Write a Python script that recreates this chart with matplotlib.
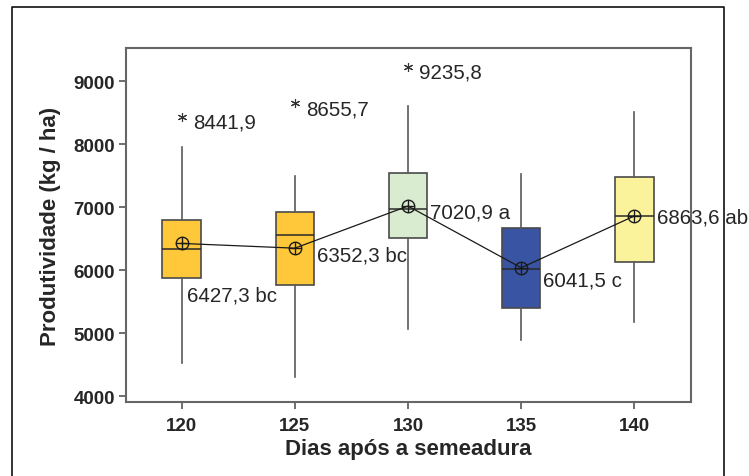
import numpy as np
import matplotlib
matplotlib.use('Agg')
import matplotlib.pyplot as plt
from matplotlib.lines import Line2D

plt.rcParams['font.family'] = ['Liberation Sans', 'DejaVu Sans']

# dados
dias = [120, 125, 130, 135, 140]
q1 = [5878, 5767, 6508, 5406, 6132]
mediana = [6338, 6566, 6978, 6021, 6862]
q3 = [6803, 6921, 7549, 6667, 7486]
whis_lo = [4524, 4302, 5068, 4894, 5184]
whis_hi = [7962, 7492, 8613, 7529, 8508]
medias = [6427.3, 6352.3, 7020.9, 6041.5, 6863.6]
letras = ['bc', 'bc', 'a', 'c', 'ab']
outliers = [[8441.9], [8655.7], [9235.8], [], []]
cores = ['#FFC83A', '#FFC83A', '#D9ECCF', '#3A54A4', '#FBF39C']

# deslocamento dos rotulos das medias (pontos)
off_media = [(4, -37), (16, -5), (16, -4.5), (16, -9), (16, -1)]

fig = plt.figure(figsize=(7.49, 4.77), dpi=100)
ax = fig.add_axes([0.1682, 0.1551, 0.754, 0.7422])

stats = []
for i in range(len(dias)):
    stats.append({'q1': q1[i], 'med': mediana[i], 'q3': q3[i],
                  'whislo': whis_lo[i], 'whishi': whis_hi[i],
                  'fliers': outliers[i], 'mean': medias[i]})

bp = ax.bxp(stats, positions=dias, widths=1.7, patch_artist=True,
            showcaps=False, showmeans=False, showfliers=True,
            boxprops=dict(edgecolor='#4a4a4a', linewidth=1.2),
            medianprops=dict(color='#2a2a2a', linewidth=1.1),
            whiskerprops=dict(color='#5a5a5a', linewidth=1.2),
            flierprops=dict(marker=(6, 2, 0), markersize=6.5, markeredgecolor='#333333',
                            markeredgewidth=0.8, linestyle='none'))
for patch, c in zip(bp['boxes'], cores):
    patch.set_facecolor(c)

# linha das medias
ax.plot(dias, medias, color='#1a1a1a', lw=0.9, zorder=4)
ax.plot(dias, medias, ls='none', marker='o', ms=9, mfc='none', mec='#1a1a1a', mew=1.0, zorder=5)
ax.plot(dias, medias, ls='none', marker='+', ms=9, mec='#1a1a1a', mew=1.0, zorder=5)

for i, d in enumerate(dias):
    lbl = ('%.1f' % medias[i]).replace('.', ',') + ' ' + letras[i]
    ax.annotate(lbl, (d, medias[i]), xytext=off_media[i], textcoords='offset points',
                ha='left', va='center', fontsize=14.8, color='#262626', annotation_clip=False)
    for o in outliers[i]:
        ax.annotate(('%.1f' % o).replace('.', ','), (d, o), xytext=(8, -4),
                    textcoords='offset points', ha='left', va='center',
                    fontsize=14.8, color='#262626')

ax.set_xlim(117.54, 142.49)
ax.set_ylim(3910, 9530)
ax.set_xticks(dias)
ax.set_yticks([4000, 5000, 6000, 7000, 8000, 9000])
for lab in ax.get_xticklabels() + ax.get_yticklabels():
    lab.set_fontweight('bold')
ax.tick_params(axis='both', direction='out', length=5, width=1.2, color='#555555',
               labelsize=13.5, labelcolor='#262626')
ax.tick_params(axis='y', pad=3)
ax.tick_params(axis='x', pad=6)
for sp in ax.spines.values():
    sp.set_color('#666666')
    sp.set_linewidth(1.5)

ax.set_xlabel('Dias após a semeadura', fontsize=16, fontweight='bold', color='#262626', labelpad=3)
ax.set_ylabel('Produtividade (kg / ha)', fontsize=16, fontweight='bold', color='#262626', labelpad=9)

# moldura externa (sem borda inferior)
x0, x1, yt = 12 / 749, 724 / 749, 1 - 8 / 477
fig.add_artist(Line2D([x0, x0, x1, x1], [0, yt, yt, 0], color='#111111', lw=1.2,
                      transform=fig.transFigure))

fig.savefig('out.png', dpi=100)
